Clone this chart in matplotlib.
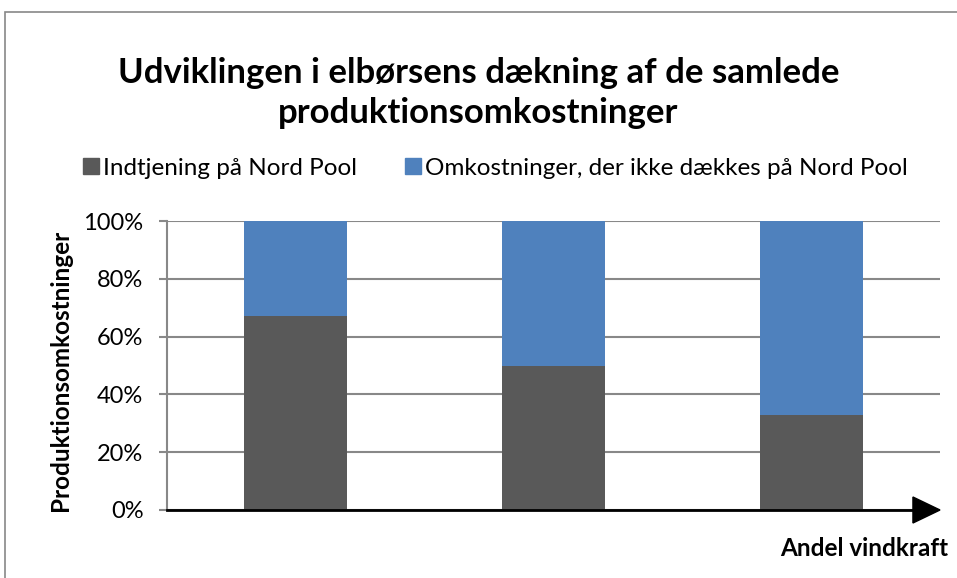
import matplotlib
matplotlib.use("Agg")
import matplotlib.pyplot as plt
from matplotlib.patches import Polygon, Rectangle
from matplotlib.ticker import FuncFormatter
from matplotlib.lines import Line2D

plt.rcParams['font.family'] = ['Lato', 'DejaVu Sans']

categories = ["Lav", "Mellem", "Høj"]
indtjening = [67, 50, 33]
omkostninger = [33, 50, 67]
series_names = ["Indtjening på Nord Pool", "Omkostninger, der ikke dækkes på Nord Pool"]
yticks = [0, 20, 40, 60, 80, 100]

c_dark = "#595959"
c_blue = "#4F81BD"
c_grid = "#888888"

fig = plt.figure(figsize=(9.57, 5.78), dpi=100)
ax = fig.add_axes([167/957, 1-510/578, (940-167)/957, (510-221)/578])

x = list(range(len(categories)))
ax.bar(x, indtjening, width=0.4, color=c_dark, zorder=3)
ax.bar(x, omkostninger, bottom=indtjening, width=0.4, color=c_blue, zorder=3)

ax.set_xlim(-0.5, 2.5)
ax.set_ylim(0, 100)
ax.set_yticks(yticks)
ax.yaxis.set_major_formatter(FuncFormatter(lambda v, p: f"{int(v)}%"))
ax.yaxis.grid(True, color=c_grid, lw=1.5, zorder=0)
ax.set_xticks([])
for s in ["top", "right", "bottom"]:
    ax.spines[s].set_visible(False)
ax.spines["left"].set_color(c_grid)
ax.spines["left"].set_linewidth(1.5)
ax.tick_params(axis="y", length=6, width=1.5, color=c_grid, labelsize=17, pad=11)

# x axis arrow
ax.plot([0, 0.97], [0, 0], transform=ax.transAxes, color="black", lw=2, clip_on=False, zorder=5)
tri = Polygon([[0.965, -0.045], [0.965, 0.045], [1.0, 0.0]], closed=True,
              transform=ax.transAxes, color="black", clip_on=False, zorder=5)
ax.add_patch(tri)

fig.text(61/957, 1-370/578, "Produktionsomkostninger", fontsize=17.5, fontweight="bold",
         rotation=90, ha="center", va="center")
fig.text(948/957, 1-548/578, "Andel vindkraft", fontsize=17.5, fontweight="bold",
         ha="right", va="center")

fig.text(0.5, 1-93/578, "Udviklingen i elbørsens dækning af de samlede\nproduktionsomkostninger",
         fontsize=25, fontweight="bold", ha="center", va="center", linespacing=1.3)

handles = [Line2D([], [], marker="s", ls="none", color=c_dark, markersize=12),
           Line2D([], [], marker="s", ls="none", color=c_blue, markersize=12)]
fig.legend(handles, series_names, loc="center", bbox_to_anchor=(0.5 + 16/957, 1-168/578),
           ncol=2, frameon=False, fontsize=17.5, handletextpad=0.1, columnspacing=1.9,
           handlelength=0.8)

fig.patches.append(Rectangle((5/957, -0.1), 1.2, 1 - 12/578 + 0.1, transform=fig.transFigure,
                             fill=False, edgecolor="#888888", lw=1.2))

fig.savefig("out.png", dpi=100)
